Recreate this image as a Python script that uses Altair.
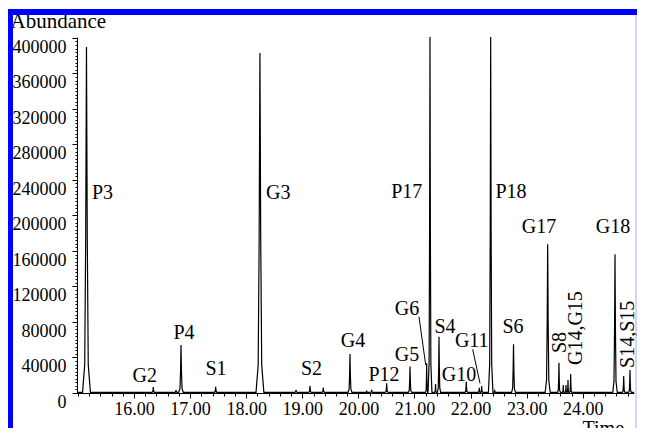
import altair as alt
import pandas as pd

# ---- data ----
peak_time = [15.153, 16.344, 16.749, 16.838, 17.456, 18.245, 18.888, 19.137, 19.374,
             19.850, 20.148, 20.237, 20.504, 20.920, 21.217, 21.276, 21.375, 21.437,
             21.923, 22.155, 22.198, 22.358, 22.430, 22.765, 23.374, 23.575, 23.652,
             23.700, 23.736, 23.784, 24.574, 24.729, 24.841]
peak_height = [389700, 6800, 3400, 54000, 7100, 383000, 3400, 8200, 6000,
               44000, 2800, 3500, 11000, 29700, 33500, 401000, 10000, 63400,
               12700, 6000, 7900, 401000, 2500, 54800, 167500, 34100, 9000,
               9000, 14600, 21400, 156200, 19100, 25900]
peak_halfwidth = [0.07, 0.025, 0.02, 0.04, 0.025, 0.07, 0.025, 0.025, 0.025,
                  0.035, 0.02, 0.02, 0.025, 0.03, 0.02, 0.035, 0.015, 0.03,
                  0.025, 0.018, 0.018, 0.04, 0.02, 0.035, 0.045, 0.025, 0.015,
                  0.015, 0.015, 0.02, 0.04, 0.025, 0.025]
baseline_level = 800

# peak outline template (fraction of half-width, fraction of height)
shape_dx = [-1.0, -0.45, -0.2, 0.0, 0.2, 0.45, 1.0]
shape_dy = [0.0, 0.08, 0.45, 1.0, 0.45, 0.08, 0.0]

label_text = ["P3", "G3", "G2", "P4", "S1", "S2", "G4", "P12", "G5", "G6", "S4",
              "G10", "G11", "P17", "P18", "S6", "G17", "G18",
              "S8", "G14,G15", "S14,S15"]
label_time = [15.251, 18.353, 16.191, 16.891, 17.462, 19.164, 19.904, 20.456, 20.866,
              20.866, 21.544, 21.793, 22.020, 20.861, 22.720, 22.756, 23.219, 24.538,
              23.709, 23.977, 24.905]
label_abund = [218000, 218000, 12700, 60500, 20300, 20300, 51500, 13500, 36000,
               87900, 67200, 13500, 52200, 219300, 219300, 67200, 179900, 179900,
               45000, 31500, 28200]
label_kind = ["left", "left"] + ["center"] * 16 + ["rot"] * 3

leader_t1 = [21.080, 22.037]
leader_t2 = [21.200, 22.168]
leader_v1 = [85900, 49200]
leader_v2 = [31500, 10900]

W, H = 557, 356
X_MIN = 14.984
X_MAX = X_MIN + W / 56.1
Y_MAX = 401000
x_major = [16, 17, 18, 19, 20, 21, 22, 23, 24]
x_minor = [round(15.0 + 0.2 * i, 1) for i in range(50)]
y_major = [40000 * i for i in range(11)]
y_minor = [4000 * i for i in range(101)]

FONT = "Times New Roman, Liberation Serif, DejaVu Serif, serif"
PAD = {"left": 69, "top": 29, "right": 3, "bottom": 35}

# ---- build trace table from the peak list ----
pts = [(X_MIN, baseline_level), (X_MAX, baseline_level)]
for t, h, w in zip(peak_time, peak_height, peak_halfwidth):
    for fx, fy in zip(shape_dx, shape_dy):
        pts.append((t + fx * w, baseline_level + fy * (h - baseline_level)))
pts.sort()
trace = pd.DataFrame(pts, columns=["time", "abundance"])

labels = pd.DataFrame({"text": label_text, "time": label_time,
                       "abundance": label_abund, "kind": label_kind})
leaders = pd.DataFrame({"t1": leader_t1, "t2": leader_t2,
                        "v1": leader_v1, "v2": leader_v2})

xscale = alt.Scale(domain=[X_MIN, X_MAX], nice=False, zero=False)
yscale = alt.Scale(domain=[0, Y_MAX], nice=False)

xaxis = alt.Axis(
    orient="bottom", values=x_major, format=".2f", grid=False, title="Time-->",
    labelFont=FONT, labelFontSize=18, labelColor="black",
    domainColor="black", tickColor="black", tickSize=5,
    labelPadding=2, labelOverlap=False, labelFlush=False,
    titleFont=FONT, titleFontSize=20, titleFontWeight="normal", titleColor="black",
    titleAnchor="start", titleAlign="left", titleBaseline="alphabetic",
    titleX=505, titleY=41,
)
yaxis = alt.Axis(
    orient="left", values=y_major, format="d", grid=False, title="Abundance",
    labelFont=FONT, labelFontSize=18, labelColor="black",
    domainColor="black", tickColor="black", tickSize=5,
    labelPadding=6, labelOffset=9.5, labelOverlap=False, labelFlush=False,
    titleFont=FONT, titleFontSize=21, titleFontWeight="normal", titleColor="black",
    titleAngle=0, titleAlign="left", titleBaseline="alphabetic",
    titleX=-67, titleY=-10,
)
xaxis_minor = alt.Axis(orient="bottom", values=x_minor, labels=False, domain=False,
                       grid=False, title="", tickColor="black", tickSize=3)
yaxis_minor = alt.Axis(orient="left", values=y_minor, labels=False, domain=False,
                       grid=False, title="", tickColor="black", tickSize=2)

line = alt.Chart(trace).mark_line(color="black", strokeWidth=1.2).encode(
    x=alt.X("time:Q", scale=xscale, axis=xaxis),
    y=alt.Y("abundance:Q", scale=yscale, axis=yaxis),
)

lead = alt.Chart(leaders).mark_rule(color="black", strokeWidth=1).encode(
    x=alt.X("t1:Q", scale=xscale, axis=xaxis_minor), x2="t2:Q",
    y=alt.Y("v1:Q", scale=yscale, axis=yaxis_minor), y2="v2:Q",
)


def text_layer(kind, **kw):
    return alt.Chart(labels).transform_filter(f"datum.kind == '{kind}'").mark_text(
        font=FONT, fontSize=20, color="black", baseline="alphabetic", **kw
    ).encode(
        x=alt.X("time:Q", scale=xscale, axis=None),
        y=alt.Y("abundance:Q", scale=yscale, axis=None),
        text="text:N",
    )


txt_left = text_layer("left", align="left")
txt_center = text_layer("center", align="center")
txt_rot = text_layer("rot", align="left", angle=270)

one = pd.DataFrame({"k": [0]})
top_band = alt.Chart(one).mark_rect(color="#0000ff").encode(
    x=alt.value(-69), x2=alt.value(W + 3), y=alt.value(-28), y2=alt.value(-22))
left_band = alt.Chart(one).mark_rect(color="#0000ff").encode(
    x=alt.value(-69), x2=alt.value(-64), y=alt.value(-28), y2=alt.value(H + 35))
right_line = alt.Chart(one).mark_rule(color="#a8a8ff", strokeWidth=1).encode(
    x=alt.value(W + 2), y=alt.value(-22), y2=alt.value(H + 35))

chart = alt.layer(line, lead, txt_left, txt_center, txt_rot,
                  top_band, left_band, right_line).resolve_axis(
    x="independent", y="independent"
).properties(
    width=W, height=H, padding=PAD,
    autosize=alt.AutoSizeParams(type="none"),
    background="white",
).configure_view(strokeWidth=0)

chart.save("out.html", embed_options={"renderer": "svg", "actions": False})
